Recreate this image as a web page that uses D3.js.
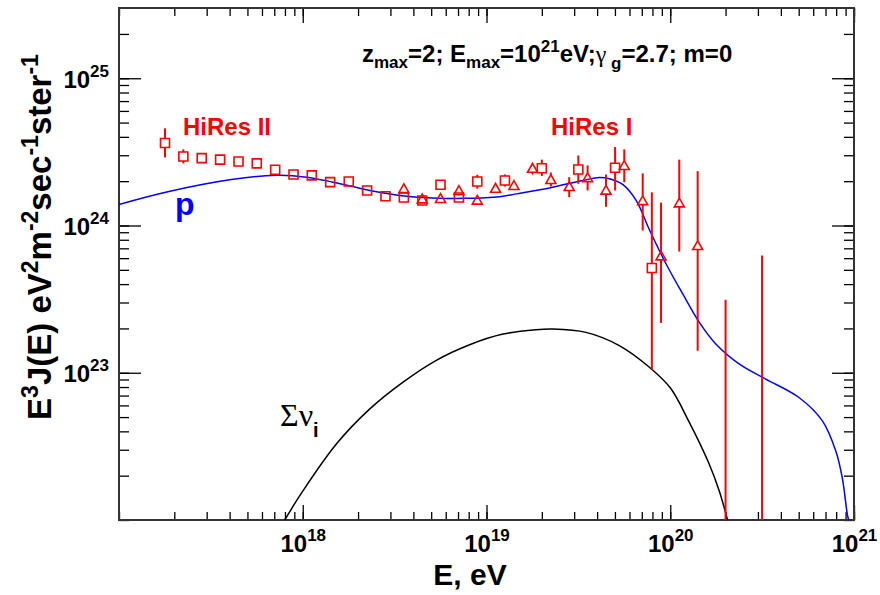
<!DOCTYPE html>
<html>
<head>
<meta charset="utf-8">
<title>E3 J(E) with HiRes data</title>
<script src="https://d3js.org/d3.v7.min.js"></script>
<style>
  body { margin: 0; background: #fff; }
  svg text { font-family: "Liberation Sans", Arial, Helvetica, sans-serif; font-weight: bold; }
</style>
</head>
<body>
<svg class="chart"></svg>
<script>
// HiRes II (monocular) - open squares
var hr2E    = [1.78e17, 2.24e17, 2.82e17, 3.55e17, 4.47e17, 5.62e17, 7.08e17, 8.91e17, 1.12e18, 1.41e18,
               1.78e18, 2.24e18, 2.82e18, 3.55e18, 4.47e18, 5.62e18, 7.08e18, 8.91e18, 1.26e19, 2.00e19,
               3.16e19, 5.01e19, 7.94e19, 2.00e20, 3.16e20];
var hr2Flux = [3.63e24, 2.94e24, 2.87e24, 2.80e24, 2.72e24, 2.64e24, 2.39e24, 2.22e24, 2.19e24, 1.97e24,
               1.99e24, 1.73e24, 1.58e24, 1.55e24, 1.48e24, 1.89e24, 1.55e24, 1.99e24, 2.02e24, 2.45e24,
               2.40e24, 2.47e24, 5.15e23, 5.0e21, 5.0e21];
var hr2Hi   = [4.57e24, 3.29e24, 3.00e24, 2.93e24, 2.85e24, 2.77e24, 2.50e24, 2.33e24, 2.30e24, 2.07e24,
               2.09e24, 1.82e24, 1.66e24, 1.63e24, 1.56e24, 1.99e24, 1.63e24, 2.21e24, 2.22e24, 2.80e24,
               2.99e24, 3.41e24, 1.68e24, 3.13e23, 6.25e23];
var hr2Lo   = [2.90e24, 2.64e24, 2.74e24, 2.67e24, 2.60e24, 2.52e24, 2.28e24, 2.12e24, 2.09e24, 1.88e24,
               1.90e24, 1.65e24, 1.51e24, 1.48e24, 1.41e24, 1.80e24, 1.48e24, 1.78e24, 1.84e24, 2.17e24,
               1.92e24, 1.73e24, 1.05e23, 1.0e21, 1.0e21];

// HiRes I (monocular) - open triangles
var hr1E    = [3.55e18, 4.47e18, 5.62e18, 7.08e18, 8.91e18, 1.12e19, 1.41e19, 1.78e19, 2.24e19, 2.82e19,
               3.55e19, 4.47e19, 5.62e19, 7.08e19, 8.91e19, 1.12e20, 1.41e20];
var hr1Flux = [1.76e24, 1.50e24, 1.51e24, 1.71e24, 1.47e24, 1.77e24, 1.85e24, 2.42e24, 2.03e24, 1.82e24,
               2.09e24, 1.72e24, 2.53e24, 1.46e24, 6.15e23, 1.41e24, 7.23e23];
var hr1Hi   = [1.84e24, 1.57e24, 1.58e24, 1.81e24, 1.55e24, 1.86e24, 1.95e24, 2.65e24, 2.29e24, 2.13e24,
               2.56e24, 2.22e24, 3.29e24, 2.26e24, 1.43e24, 2.80e24, 2.34e24];
var hr1Lo   = [1.68e24, 1.43e24, 1.44e24, 1.60e24, 1.40e24, 1.68e24, 1.75e24, 2.22e24, 1.84e24, 1.56e24,
               1.73e24, 1.34e24, 1.97e24, 9.25e23, 2.18e23, 6.65e23, 1.41e23];

// calculated proton spectrum (blue)
var protonE    = [1.00e17, 1.82e17, 4.18e17, 7.19e17, 1.05e18, 1.46e18, 2.22e18, 3.37e18, 5.11e18, 7.76e18,
                  1.18e19, 1.45e19, 2.20e19, 3.33e19, 4.11e19, 4.66e19, 5.51e19, 6.52e19, 7.69e19, 9.48e19,
                  1.17e20, 1.44e20, 1.77e20, 2.37e20, 3.31e20, 5.02e20, 6.73e20, 7.96e20, 8.63e20, 9.20e20, 9.35e20];
var protonFlux = [1.39e24, 1.69e24, 2.06e24, 2.19e24, 2.13e24, 1.97e24, 1.75e24, 1.60e24, 1.54e24, 1.53e24,
                  1.57e24, 1.64e24, 1.80e24, 2.02e24, 2.12e24, 2.08e24, 1.90e24, 1.48e24, 9.4e23, 5.5e23,
                  3.43e23, 2.20e23, 1.57e23, 1.15e23, 9.06e22, 6.79e22, 4.71e22, 2.94e22, 1.94e22, 1.09e22, 1.0e22];

// sum of neutrino flavours (black)
var nuE    = [7.98e17, 1.00e18, 1.52e18, 2.31e18, 3.50e18, 5.30e18, 8.10e18, 1.23e19, 1.86e19, 2.29e19,
              3.48e19, 5.28e19, 7.70e19, 1.00e20, 1.26e20, 1.62e20, 1.85e20, 2.05e20];
var nuFlux = [1.0e22, 1.57e22, 3.27e22, 5.66e22, 8.6e22, 1.21e23, 1.55e23, 1.83e23, 1.96e23, 1.98e23,
              1.88e23, 1.53e23, 1.09e23, 7.9e22, 4.7e22, 2.44e22, 1.57e22, 1.0e22];

var xLabelTicks = [1e18, 1e19, 1e20, 1e21];
var yLabelTicks = [1e23, 1e24, 1e25];

//set up chart
var W = 880, H = 595;
var margin = {top: 8, right: 26, bottom: 75, left: 119};
var width = W - margin.left - margin.right;    // 735
var height = H - margin.top - margin.bottom;   // 512

var svg = d3.select(".chart").attr("width", W).attr("height", H);
var chart = svg.append("g").attr("transform", "translate(" + margin.left + "," + margin.top + ")");

var x = d3.scaleLog().domain([1e17, 1e21]).range([0, width]);
var y = d3.scaleLog().domain([1e22, 3e25]).range([height, 0]);

chart.append("clipPath").attr("id", "clip")
  .append("rect").attr("width", width).attr("height", height);

// ticks on all four sides, pointing into the frame
function addAxis(axis, tr) {
  var g = chart.append("g").attr("transform", tr).call(axis);
  g.select(".domain").remove();
  g.selectAll(".tick line").attr("stroke", "#000").attr("stroke-width", 1.3);
  return g;
}
addAxis(d3.axisBottom(x).tickValues(x.ticks()).tickSize(-8).tickFormat(""), "translate(0," + height + ")");
addAxis(d3.axisTop(x).tickValues(x.ticks()).tickSize(-8).tickFormat(""), "translate(0,0)");
addAxis(d3.axisLeft(y).tickValues(y.ticks()).tickSize(-10).tickFormat(""), "translate(0,0)");
addAxis(d3.axisRight(y).tickValues(y.ticks()).tickSize(-10).tickFormat(""), "translate(" + width + ",0)");
addAxis(d3.axisTop(x).tickValues(xLabelTicks).tickSize(-15).tickFormat(""), "translate(0,0)");
addAxis(d3.axisRight(y).tickValues(yLabelTicks).tickSize(-22).tickFormat(""), "translate(" + width + ",0)");

var xAx = addAxis(d3.axisBottom(x).tickValues(xLabelTicks).tickSize(-15), "translate(0," + height + ")");
var yAx = addAxis(d3.axisLeft(y).tickValues(yLabelTicks).tickSize(-22), "translate(0,0)");

function powerLabel(sel, supDy) {
  sel.each(function(d) {
    var t = d3.select(this).text(null).attr("fill", "#000");
    t.append("tspan").attr("font-size", 24).text("10");
    t.append("tspan").attr("font-size", 17).attr("dy", supDy).text(Math.round(Math.log10(d)));
  });
}
xAx.selectAll(".tick text").attr("y", 32).attr("dy", null).attr("text-anchor", "middle").call(powerLabel, -11);
yAx.selectAll(".tick text").attr("x", -10).attr("dy", 9).attr("text-anchor", "end").call(powerLabel, -11);

// frame
chart.append("rect").attr("width", width).attr("height", height)
  .attr("fill", "none").attr("stroke", "#333").attr("stroke-width", 2);

var plot = chart.append("g").attr("clip-path", "url(#clip)");

// curves
var line = d3.line().x(function(d){ return x(d[0]); }).y(function(d){ return y(d[1]); })
  .curve(d3.curveCatmullRom.alpha(0.5));
plot.append("path").datum(d3.zip(nuE, nuFlux)).attr("d", line)
  .attr("fill", "none").attr("stroke", "#000").attr("stroke-width", 1.5);
plot.append("path").datum(d3.zip(protonE, protonFlux)).attr("d", line)
  .attr("fill", "none").attr("stroke", "#0000ff").attr("stroke-width", 1.5);

// data points with error bars (bars stop at the open marker)
function drawSet(E, F, hi, lo, shape, top, bot) {
  var data = E.map(function(e, i){ return {e: e, f: F[i], hi: hi[i], lo: lo[i]}; });
  var g = plot.append("g");
  data.forEach(function(d) {
    var cx = x(d.e), cy = y(d.f);
    if (y(d.hi) < cy - top)
      g.append("line").attr("x1", cx).attr("x2", cx).attr("y1", y(d.hi)).attr("y2", cy - top)
        .attr("stroke", "#ff0000").attr("stroke-width", 2);
    if (y(d.lo) > cy + bot)
      g.append("line").attr("x1", cx).attr("x2", cx).attr("y1", cy + bot).attr("y2", y(d.lo))
        .attr("stroke", "#ff0000").attr("stroke-width", 2);
  });
  g.selectAll("path.m").data(data).enter().append("path")
    .attr("class", "m")
    .attr("d", shape)
    .attr("transform", function(d){ return "translate(" + x(d.e) + "," + y(d.f) + ")"; })
    .attr("fill", "none").attr("stroke", "#ff0000").attr("stroke-width", 1.6);
}
drawSet(hr2E, hr2Flux, hr2Hi, hr2Lo, "M-4.5,-4.5H4.5V4.5H-4.5Z", 4.5, 4.5);
drawSet(hr1E, hr1Flux, hr1Hi, hr1Lo, "M0,-5.5L5,3.3H-5Z", 5.5, 3.3);

// labels
svg.append("text").attr("x", 183).attr("y", 135).attr("font-size", 24).attr("fill", "#ff0000").text("HiRes II");
svg.append("text").attr("x", 551).attr("y", 135).attr("font-size", 24).attr("fill", "#ff0000").text("HiRes I");
svg.append("text").attr("x", 175).attr("y", 215).attr("font-size", 32).attr("fill", "#0000ff").text("p");

var nu = svg.append("text").attr("x", 280).attr("y", 426).attr("fill", "#000");
nu.append("tspan").attr("font-family", "'Liberation Serif', 'DejaVu Serif', serif").attr("font-weight", "normal")
  .attr("font-size", 32).text("\u03A3\u03BD");
nu.append("tspan").attr("font-size", 20).attr("dy", 11).text("i");

var ann = svg.append("text").attr("x", 362).attr("y", 62).attr("font-size", 24).attr("fill", "#000");
ann.append("tspan").text("z");
ann.append("tspan").attr("font-size", 17).attr("dy", 6).text("max");
ann.append("tspan").attr("dy", -6).text("=2; E");
ann.append("tspan").attr("font-size", 17).attr("dy", 6).text("max");
ann.append("tspan").attr("dy", -6).text("=10");
ann.append("tspan").attr("font-size", 17).attr("dy", -10).text("21");
ann.append("tspan").attr("dy", 10).text("eV;");
ann.append("tspan").attr("font-family", "'Liberation Serif', serif").attr("font-weight", "normal").text("\u03B3");
ann.append("tspan").attr("font-size", 17).attr("dy", 7).text(" g");
ann.append("tspan").attr("dy", -7).text("=2.7; m=0");

// axis titles
svg.append("text").attr("x", 470).attr("y", 585).attr("text-anchor", "middle")
  .attr("font-size", 30).attr("fill", "#000").text("E, eV");

var yt = svg.append("text").attr("transform", "translate(51,237) rotate(-90)")
  .attr("text-anchor", "middle").attr("font-size", 33).attr("fill", "#000");
yt.append("tspan").text("E");
yt.append("tspan").attr("font-size", 23).attr("dy", -13).text("3");
yt.append("tspan").attr("dy", 13).text("J(E) eV");
yt.append("tspan").attr("font-size", 23).attr("dy", -13).text("2");
yt.append("tspan").attr("dy", 13).text("m");
yt.append("tspan").attr("font-size", 23).attr("dy", -13).text("-2");
yt.append("tspan").attr("dy", 13).text("sec");
yt.append("tspan").attr("font-size", 23).attr("dy", -13).text("-1");
yt.append("tspan").attr("dy", 13).text("ster");
yt.append("tspan").attr("font-size", 23).attr("dy", -13).text("-1");
</script>
</body>
</html>
